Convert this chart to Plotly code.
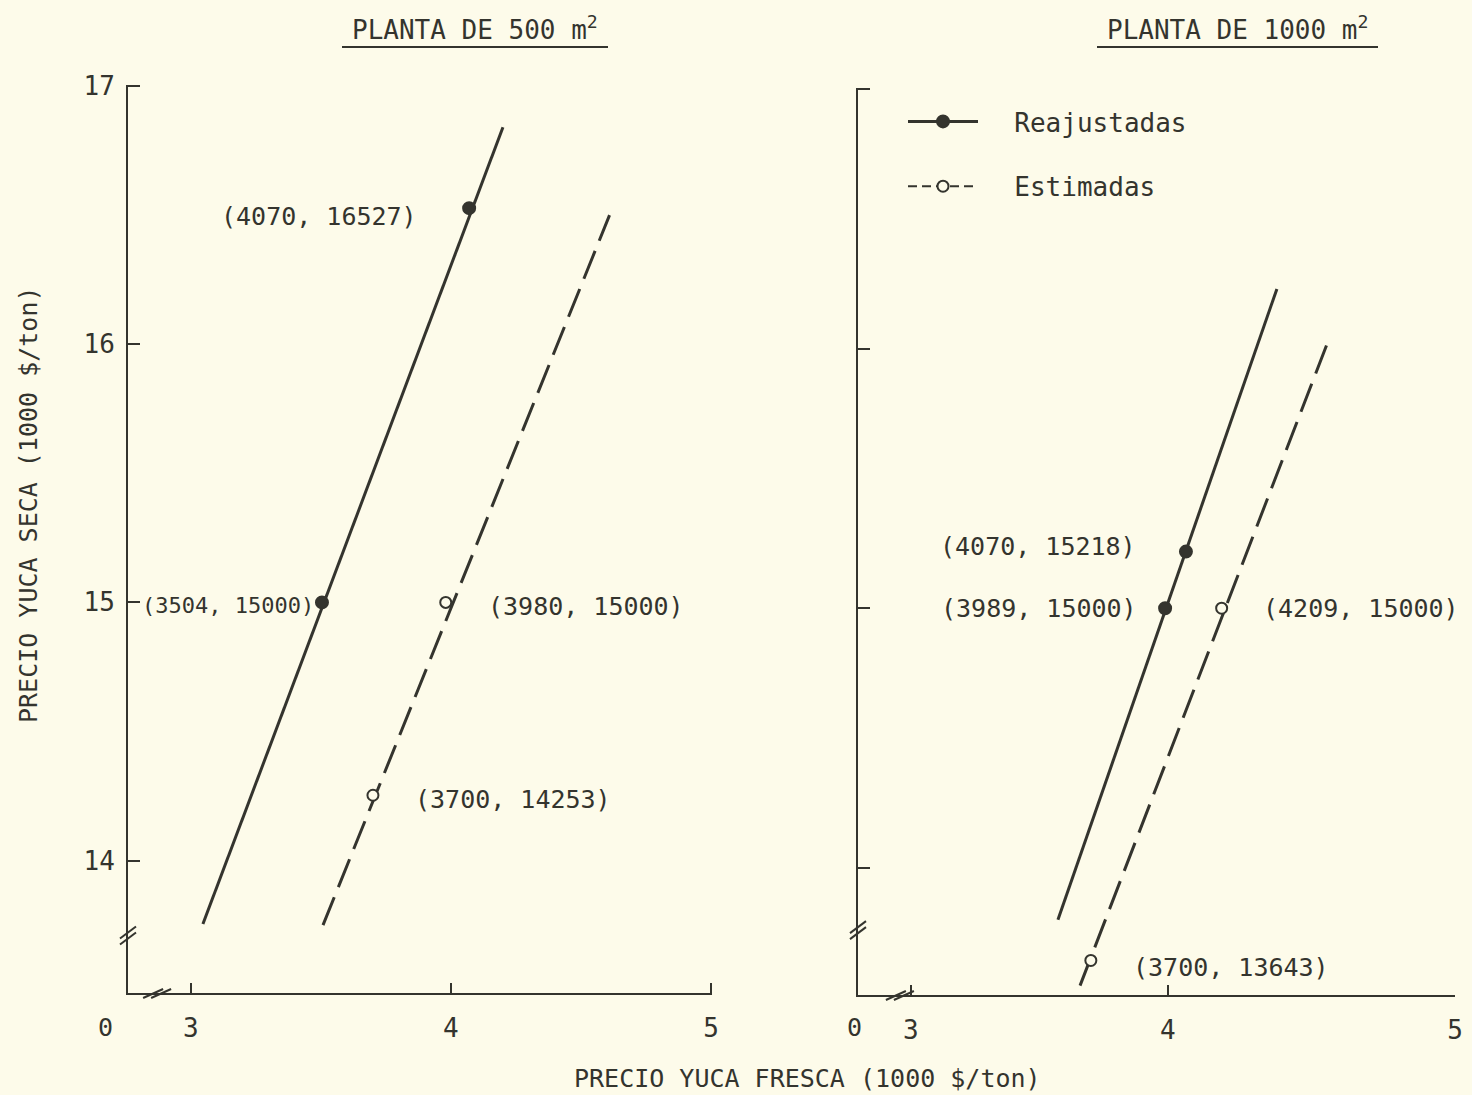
import plotly.graph_objects as go

# ---------------- data (1000 $/ton) ----------------
# Planta de 500 m2
p500_reaj_line_x = [3.046, 4.20]
p500_reaj_line_y = [13.754, 16.84]
p500_reaj_pts_x = [3.504, 4.070]
p500_reaj_pts_y = [15.000, 16.527]
p500_reaj_labels = ["(3504, 15000)", "(4070, 16527)"]

p500_est_line_x = [3.508, 4.61]
p500_est_line_y = [13.75, 16.50]
p500_est_pts_x = [3.980, 3.700]
p500_est_pts_y = [15.000, 14.253]
p500_est_labels = ["(3980, 15000)", "(3700, 14253)"]

# Planta de 1000 m2
p1000_reaj_line_x = [3.572, 4.424]
p1000_reaj_line_y = [13.80, 16.23]
p1000_reaj_pts_x = [3.989, 4.070]
p1000_reaj_pts_y = [15.000, 15.218]
p1000_reaj_labels = ["(3989, 15000)", "(4070, 15218)"]

p1000_est_line_x = [3.658, 4.630]
p1000_est_line_y = [13.546, 16.046]
p1000_est_pts_x = [4.209, 3.700]
p1000_est_pts_y = [15.000, 13.643]
p1000_est_labels = ["(4209, 15000)", "(3700, 13643)"]

y_ticks = [14, 15, 16, 17]
x_ticks = [3, 4, 5]
x_tick_text = ["3", "4", "5"]

# axis extents as drawn in the original (broken axes)
X1_RANGE = [2.758, 5.004]
X2_RANGE = [2.794, 5.117]
Y1_RANGE = [13.487, 17.004]
Y2_RANGE = [13.51, 17.004]

INK = "#34342e"
BG = "#fdfbea"
FONT = "DejaVu Sans Mono"
W, H = 1472, 1095

fig = go.Figure()

DASH = "30px,11px"

def add_panel(xa, ya, lx, ly, px, py, dash, filled):
    fig.add_trace(go.Scatter(x=lx, y=ly, mode="lines", xaxis=xa, yaxis=ya,
                             line=dict(color=INK, width=3, dash=dash),
                             showlegend=False, hoverinfo="skip"))
    fig.add_trace(go.Scatter(x=px, y=py, mode="markers", xaxis=xa, yaxis=ya,
                             marker=dict(symbol="circle", size=12 if filled else 11,
                                         color=INK if filled else BG,
                                         line=dict(color=INK, width=2)),
                             showlegend=False, hoverinfo="skip"))

add_panel("x", "y", p500_reaj_line_x, p500_reaj_line_y, p500_reaj_pts_x, p500_reaj_pts_y, "solid", True)
add_panel("x", "y", p500_est_line_x, p500_est_line_y, p500_est_pts_x, p500_est_pts_y, DASH, False)
add_panel("x2", "y2", p1000_reaj_line_x, p1000_reaj_line_y, p1000_reaj_pts_x, p1000_reaj_pts_y, "solid", True)
add_panel("x2", "y2", p1000_est_line_x, p1000_est_line_y, p1000_est_pts_x, p1000_est_pts_y, DASH, False)

# legend entries
NB = "\u00a0\u00a0"
fig.add_trace(go.Scatter(x=[None], y=[None], mode="lines+markers", name=NB + "Reajustadas",
                         xaxis="x2", yaxis="y2", legendgroup="a",
                         line=dict(color=INK, width=3),
                         marker=dict(size=12, color=INK, line=dict(color=INK, width=2))))
fig.add_trace(go.Scatter(x=[None], y=[None], mode="lines+markers", name=NB + "Estimadas",
                         xaxis="x2", yaxis="y2", legendgroup="b",
                         line=dict(color=INK, width=2, dash="9px,5px"),
                         marker=dict(size=11, color=BG, line=dict(color=INK, width=2))))

# point labels
def label(xa, ya, x, y, text, side, xshift, yshift=0, size=25):
    fig.add_annotation(x=x, y=y, xref=xa, yref=ya, text=text, showarrow=False,
                       xanchor=side, yanchor="middle", xshift=xshift, yshift=yshift,
                       font=dict(family=FONT, size=size, color=INK))

label("x", "y", p500_reaj_pts_x[0], p500_reaj_pts_y[0], p500_reaj_labels[0], "right", -6, -3, size=22)
label("x", "y", p500_reaj_pts_x[1], p500_reaj_pts_y[1], p500_reaj_labels[1], "right", -50, -8)
label("x", "y", p500_est_pts_x[0], p500_est_pts_y[0], p500_est_labels[0], "left", 40, -4)
label("x", "y", p500_est_pts_x[1], p500_est_pts_y[1], p500_est_labels[1], "left", 40, -4)
label("x2", "y2", p1000_reaj_pts_x[0], p1000_reaj_pts_y[0], p1000_reaj_labels[0], "right", -26, 0)
label("x2", "y2", p1000_reaj_pts_x[1], p1000_reaj_pts_y[1], p1000_reaj_labels[1], "right", -48, 5)
label("x2", "y2", p1000_est_pts_x[0], p1000_est_pts_y[0], p1000_est_labels[0], "left", 39, 0)
label("x2", "y2", p1000_est_pts_x[1], p1000_est_pts_y[1], p1000_est_labels[1], "left", 40, -7)

# "0" origin labels (broken axes)
for px in (105, 855):
    fig.add_annotation(x=px / W, y=(H - 1027) / H, xref="paper", yref="paper", text="0",
                       showarrow=False, yanchor="middle", xanchor="center",
                       font=dict(family=FONT, size=25, color=INK))

# break marks
def ybreak(xa, ya, yv):
    for dy in (-3, 3):
        fig.add_shape(type="line", xref=f"{xa} domain", yref=ya, xsizemode="pixel", ysizemode="pixel",
                      xanchor=0, yanchor=yv, x0=-8, x1=8, y0=-6 + dy, y1=6 + dy,
                      line=dict(color=INK, width=2))

def xbreak(xa, ya, xv):
    for dx in (-4, 4):
        fig.add_shape(type="line", xref=xa, yref=f"{ya} domain", xsizemode="pixel", ysizemode="pixel",
                      xanchor=xv, yanchor=0, x0=-10 + dx, x1=10 + dx, y0=-5, y1=4,
                      line=dict(color=INK, width=2))

ybreak("x", "y", 13.71)
ybreak("x2", "y2", 13.76)
xbreak("x", "y", 2.87)
xbreak("x2", "y2", 2.957)

# panel titles with underline
for cx, x0, x1, t in ((475, 342, 608, "PLANTA DE 500 m<sup>2</sup>"),
                      (1237, 1097, 1378, "PLANTA DE 1000 m<sup>2</sup>")):
    fig.add_annotation(x=cx / W, y=(H - 47) / H, xref="paper", yref="paper",
                       text=t, showarrow=False, xanchor="center", yanchor="bottom",
                       font=dict(family=FONT, size=26, color=INK))
    fig.add_shape(type="line", xref="paper", yref="paper",
                  x0=x0 / W, x1=x1 / W, y0=(H - 47) / H, y1=(H - 47) / H,
                  line=dict(color=INK, width=2))

# axis titles
fig.add_annotation(x=807 / W, y=(H - 1078) / H, xref="paper", yref="paper",
                   text="PRECIO YUCA FRESCA (1000 $/ton)", showarrow=False,
                   xanchor="center", yanchor="middle",
                   font=dict(family=FONT, size=25, color=INK))
fig.add_annotation(x=28 / W, y=(H - 505) / H, xref="paper", yref="paper",
                   text="PRECIO YUCA SECA (1000 $/ton)", showarrow=False, textangle=-90,
                   xanchor="center", yanchor="middle",
                   font=dict(family=FONT, size=25, color=INK))

axis_common = dict(showgrid=False, zeroline=False, showline=True, linecolor=INK, linewidth=2,
                   ticks="inside", tickcolor=INK, tickwidth=2, automargin=False,
                   tickfont=dict(family=FONT, size=26, color=INK))

fig.update_layout(
    width=W, height=H,
    margin=dict(l=0, r=0, t=0, b=0, pad=0),
    paper_bgcolor=BG, plot_bgcolor=BG,
    showlegend=True,
    legend=dict(x=903 / W, y=(H - 98) / H, xanchor="left", yanchor="top",
                bgcolor="rgba(0,0,0,0)", itemwidth=70, tracegroupgap=28,
                font=dict(family=FONT, size=26, color=INK)),
    xaxis=dict(domain=[128 / W, 712 / W], range=X1_RANGE, anchor="y",
               tickvals=x_ticks, ticktext=x_tick_text, ticklen=10, ticklabelstandoff=11,
               **axis_common),
    yaxis=dict(domain=[(H - 993) / H, (H - 85) / H], range=Y1_RANGE, anchor="x",
               tickvals=y_ticks, ticklen=12, ticklabelstandoff=6, **axis_common),
    xaxis2=dict(domain=[858 / W, 1455 / W], range=X2_RANGE, anchor="y2",
                tickvals=[x_ticks[0], x_ticks[1], X2_RANGE[1]], ticktext=x_tick_text,
                ticklen=10, ticklabelstandoff=11, **axis_common),
    yaxis2=dict(domain=[(H - 995) / H, (H - 88) / H], range=Y2_RANGE, anchor="x2",
                tickvals=y_ticks, ticklen=12, showticklabels=False, **axis_common),
)

fig.write_html("out.html", config={"displayModeBar": False},
               post_script="document.body.style.margin='0';document.body.style.background='%s';" % BG)
